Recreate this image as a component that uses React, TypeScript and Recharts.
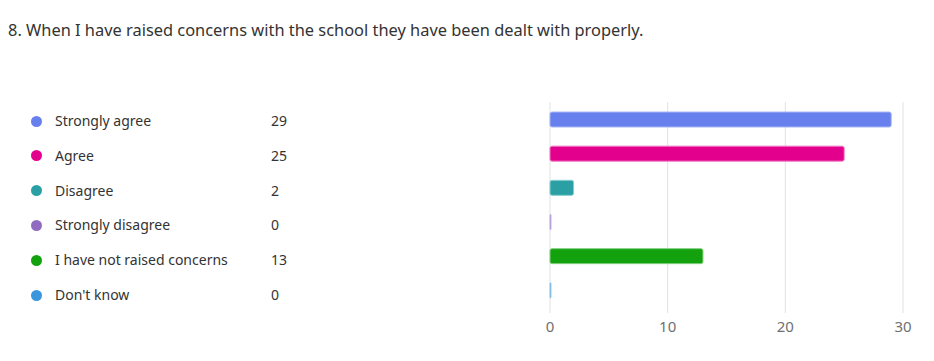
import React from "react";
import { BarChart, Bar, XAxis, YAxis, CartesianGrid, Cell } from "recharts";

const title = "8. When I have raised concerns with the school they have been dealt with properly.";
const categories = ["Strongly agree", "Agree", "Disagree", "Strongly disagree", "I have not raised concerns", "Don't know"];
const counts = [29, 25, 2, 0, 13, 0];
const colors = ["#6780EE", "#E3008C", "#2AA0A4", "#8F6CBF", "#13A10E", "#3A96DD"];
const strokeColors = ["#A9B6F5", "#F07CC2", "#86CDD0", "#C7B3E0", "#80D07D", "#9CCBEE"];
const xTicks = [0, 10, 20, 30];

const data = categories.map((c, i) => ({ name: c, value: counts[i] }));

const FONT = "'Segoe UI', 'Noto Sans', 'Open Sans', sans-serif";

export default function App() {
  return (
    <div style={{ position: "absolute", left: 0, top: 0, width: 934, height: 361, background: "#fff", fontFamily: FONT, overflow: "hidden" }}>
      <div style={{ position: "absolute", left: 8, top: 19, fontSize: 16.4, color: "#333", whiteSpace: "nowrap", lineHeight: "22px" }}>{title}</div>
      {categories.map((c, i) => (
        <div key={c} style={{ position: "absolute", left: 0, top: 109 + i * 34.8, height: 24, width: 520, color: "#333", fontSize: 14, lineHeight: "24px" }}>
          <span style={{ position: "absolute", left: 31, top: 6.5, width: 11, height: 11, borderRadius: "50%", background: colors[i] }} />
          <span style={{ position: "absolute", left: 55, whiteSpace: "nowrap" }}>{c}</span>
          <span style={{ position: "absolute", left: 271, whiteSpace: "nowrap" }}>{counts[i]}</span>
        </div>
      ))}
      <div style={{ position: "absolute", left: 0, top: 0 }}>
        <BarChart width={934} height={361} data={data} layout="vertical" margin={{ top: 102, right: 31, bottom: 24, left: 550 }} barCategoryGap={19}>
          <CartesianGrid horizontal={false} stroke="#E1E1E1" />
          <XAxis type="number" height={30} domain={[0, 30]} ticks={xTicks} axisLine={false} tickLine={{ stroke: "#E1E1E1" }} tickSize={6} tickMargin={8} tick={{ fill: "#707070", fontSize: 15, fontFamily: FONT }} />
          <YAxis type="category" dataKey="name" hide />
          <Bar dataKey="value" isAnimationActive={false} radius={2} minPointSize={1} barSize={15}>
            {data.map((d, i) => (
              <Cell key={d.name} fill={colors[i]} stroke={strokeColors[i]} strokeWidth={1} />
            ))}
          </Bar>
        </BarChart>
      </div>
    </div>
  );
}
